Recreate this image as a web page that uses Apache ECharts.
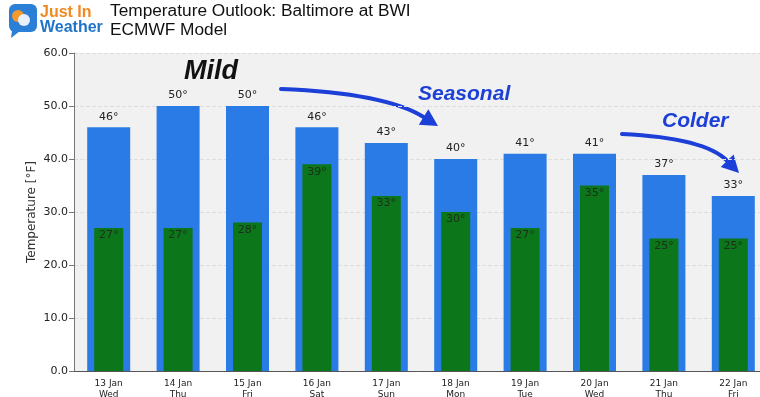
<!DOCTYPE html>
<html>
<head>
<meta charset="utf-8">
<script src="https://cdn.jsdelivr.net/npm/echarts@6/dist/echarts.min.js"></script>
<style>
html, body { margin: 0; padding: 0; background: #fff; }
#chart { width: 760px; height: 397px; }
</style>
</head>
<body>
<div id="chart"></div>
<script>
const days = ['13 Jan\nWed', '14 Jan\nThu', '15 Jan\nFri', '16 Jan\nSat', '17 Jan\nSun',
    '18 Jan\nMon', '19 Jan\nTue', '20 Jan\nWed', '21 Jan\nThu', '22 Jan\nFri']
const highs = [46, 50, 50, 46, 43, 40, 41, 41, 37, 33]
const lows = [27, 27, 28, 39, 33, 30, 27, 35, 25, 25]
const yTicks = [0, 10, 20, 30, 40, 50, 60]

const chart = echarts.init(document.getElementById('chart'))

const arrowBlue = '#1c3fd8'

// curved arrow: quadratic curve plus a triangle head
function arrow(x1, y1, cx, cy, x2, y2) {
    const ang = Math.atan2(y2 - cy, x2 - cx)
    const len = 17, w = 9
    const bx = x2 - len * Math.cos(ang), by = y2 - len * Math.sin(ang)
    const px = -Math.sin(ang) * w, py = Math.cos(ang) * w
    return [
        {
            type: 'bezierCurve',
            shape: { x1: x1, y1: y1, cpx1: cx, cpy1: cy, x2: bx, y2: by },
            style: { stroke: arrowBlue, lineWidth: 4, fill: null, lineCap: 'round' }
        },
        {
            type: 'polygon',
            shape: { points: [[x2, y2], [bx + px, by + py], [bx - px, by - py]] },
            style: { fill: arrowBlue }
        }
    ]
}

const labelFmt = p => p.value + '°'

const option = {
    backgroundColor: '#fff',
    animation: false,
    textStyle: { fontFamily: 'DejaVu Sans' },
    grid: {
        left: 74,
        right: -8,
        top: 53,
        bottom: 26,
        outerBoundsMode: 'none',
        containLabel: false,
        show: true,
        backgroundColor: '#f1f1f1',
        borderWidth: 0
    },
    xAxis: [
        {
            type: 'category',
            data: days,
            axisLine: { lineStyle: { color: '#555', width: 1 } },
            axisTick: { alignWithLabel: true, length: 4, lineStyle: { color: '#555' } },
            axisLabel: { color: '#222', fontSize: 9, lineHeight: 11, margin: 7 }
        },
        {
            // hidden twin axis so low bars sit centred on the high bars
            type: 'category',
            data: days,
            position: 'bottom',
            show: false
        }
    ],
    yAxis: {
        type: 'value',
        min: yTicks[0],
        max: yTicks[yTicks.length - 1],
        interval: 10,
        axisLine: { show: true, lineStyle: { color: '#777' } },
        axisTick: { show: true, length: 5, lineStyle: { color: '#777' } },
        axisLabel: {
            color: '#222',
            fontSize: 11,
            margin: 6,
            formatter: v => v.toFixed(1)
        },
        splitLine: { lineStyle: { color: '#dedede', type: 'dashed' } }
    },
    series: [
        {
            name: 'High',
            type: 'bar',
            xAxisIndex: 0,
            data: highs,
            barWidth: 43,
            itemStyle: { color: '#2a7be6' },
            label: {
                show: true,
                position: 'top',
                distance: 5,
                color: '#222',
                fontSize: 11,
                formatter: labelFmt
            }
        },
        {
            name: 'Low',
            type: 'bar',
            xAxisIndex: 1,
            data: lows,
            barWidth: 29,
            itemStyle: { color: '#0c761a' },
            label: {
                show: true,
                position: 'insideTop',
                distance: 2,
                color: '#1e2e1e',
                fontSize: 11,
                formatter: labelFmt
            }
        }
    ],
    graphic: [
        // y axis title
        {
            type: 'text',
            x: 32, y: 212,
            rotation: Math.PI / 2,
            style: {
                text: 'Temperature [°F]', fill: '#333', font: '12px "DejaVu Sans"',
                align: 'center', verticalAlign: 'middle'
            }
        },
        // logo
        {
            type: 'rect',
            shape: { x: 9, y: 4, width: 28, height: 28, r: 6 },
            style: { fill: '#2c7fd6' }
        },
        {
            type: 'circle',
            shape: { cx: 18, cy: 16, r: 6 },
            style: { fill: '#f39a2b' }
        },
        {
            type: 'circle',
            shape: { cx: 24, cy: 20, r: 6 },
            style: { fill: '#e8f1fb' }
        },
        {
            type: 'polygon',
            shape: { points: [[12, 31], [20, 31], [11, 38]] },
            style: { fill: '#2c7fd6' }
        },
        {
            type: 'text',
            left: 40, top: 5,
            style: { text: 'Just In', fill: '#f08a22', font: 'bold 16px "Liberation Sans"' }
        },
        {
            type: 'text',
            left: 40, top: 20,
            style: { text: 'Weather', fill: '#1f74c8', font: 'bold 16px "Liberation Sans"' }
        },
        // titles
        {
            type: 'text',
            left: 110, top: 3,
            style: { text: 'Temperature Outlook: Baltimore at BWI', fill: '#111', font: '17.3px "Liberation Sans"' }
        },
        {
            type: 'text',
            left: 110, top: 22,
            style: { text: 'ECMWF Model', fill: '#111', font: '17.3px "Liberation Sans"' }
        },
        // annotations
        {
            type: 'text',
            left: 184, top: 58,
            style: { text: 'Mild', fill: '#111', font: 'italic bold 27px "Liberation Sans"' }
        },
        {
            type: 'text',
            left: 418, top: 84,
            style: { text: 'Seasonal', fill: arrowBlue, font: 'italic bold 21px "Liberation Sans"' }
        },
        {
            type: 'text',
            left: 662, top: 111,
            style: { text: 'Colder', fill: arrowBlue, font: 'italic bold 21px "Liberation Sans"' }
        },
        ...arrow(281, 89, 385, 93, 438, 126),
        ...arrow(622, 134, 705, 138, 739, 173)
    ]
}

chart.setOption(option)
</script>
</body>
</html>
